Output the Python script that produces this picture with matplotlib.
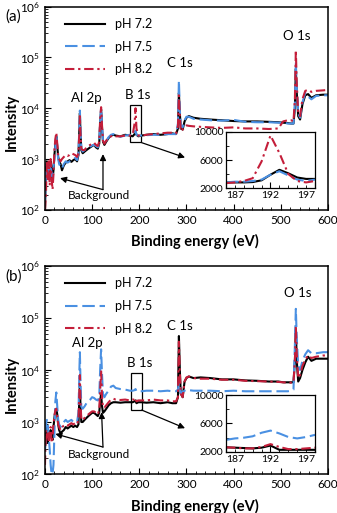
import numpy as np
import matplotlib
matplotlib.use("Agg")
import matplotlib.pyplot as plt
from matplotlib.patches import Rectangle
from matplotlib.ticker import MultipleLocator, LogLocator, NullFormatter, FixedLocator

plt.rcParams['font.family'] = ['Lato', 'DejaVu Sans']

# survey spectra, binding energy grid (eV)
energy = [0, 2, 4, 6, 8, 10, 12, 14, 16, 18, 20, 22, 24, 26, 28, 30, 33, 36, 40, 44,
          48, 52, 56, 60, 64, 68, 71, 73, 74, 75, 77, 80, 84, 88, 92, 96, 100, 104,
          108, 112, 115, 117, 119, 121, 123, 126, 130, 135, 140, 145, 150, 160, 170,
          180, 186, 190, 192, 194, 198, 205, 215, 230, 245, 260, 270, 278, 282, 284,
          286, 288, 292, 296, 300, 305, 315, 330, 350, 375, 400, 425, 450, 475, 495,
          505, 515, 522, 527, 530, 532, 534, 537, 541, 546, 552, 558, 565, 575, 590, 600]

a_ph72 = [100, 700, 900, 700, 800, 500, 900, 700, 400, 600, 1200, 2000, 2800, 1800, 1100, 900, 800, 600, 750, 850,
          900, 950, 880, 950, 1000, 900, 1200, 4000, 8000, 4000, 1500, 1300, 1400, 1500, 1600, 1700, 1800, 1900,
          1700, 1600, 2000, 5000, 9500, 4000, 2200, 1900, 2200, 2600, 2900, 3000, 2900, 2800, 3000,
          2900, 2800, 3100, 3500, 3000, 2800, 2900, 3000, 3100, 3000, 3100, 3200, 3100, 4000, 20000,
          8000, 4000, 3800, 5500, 6500, 7000, 6500, 6200, 6000, 5800, 5600, 5500, 5500, 5400, 5300,
          5200, 5100, 5000, 5000, 10000, 60000, 20000, 7000, 6000, 12000, 18000, 19000, 16000, 18000, 18500, 18500]
a_ph75 = [150, 600, 800, 500, 700, 600, 800, 500, 450, 700, 1000, 1800, 3000, 1500, 1000, 800, 700, 650, 800, 900,
          850, 900, 950, 1000, 1050, 950, 1300, 4500, 9000, 4500, 1600, 1400, 1500, 1600, 1650, 1750, 1850, 1900,
          1800, 1700, 2100, 5500, 10000, 4500, 2300, 2000, 2300, 2700, 3000, 3100, 2900, 2750, 2900,
          3000, 2900, 3200, 3600, 3000, 2900, 2900, 2950, 3000, 3000, 3100, 3100, 3100, 5000, 35000,
          9000, 4500, 4200, 5800, 6800, 6800, 6200, 6000, 5800, 5700, 5900, 5400, 5300, 5300, 5200,
          5200, 5000, 5000, 5000, 12000, 80000, 25000, 8000, 6500, 13000, 20000, 17000, 15000, 17500, 18000, 18000]
a_ph82 = [100, 200, 900, 400, 900, 300, 1000, 400, 250, 500, 1500, 2500, 3300, 2000, 1200, 1000, 900, 1000, 1100, 1200,
          1150, 1200, 1300, 1250, 1200, 1100, 1300, 3500, 7000, 3500, 1600, 1500, 1500, 1700, 1800, 1900, 2000, 2100,
          1900, 1800, 2200, 6000, 10500, 4500, 2300, 2000, 2300, 2600, 2800, 2900, 2800, 2800, 2900,
          2900, 3000, 5000, 10000, 4000, 2900, 2900, 3000, 3100, 3200, 3300, 3300, 3200, 4500, 18000,
          7000, 3500, 3800, 4300, 4600, 4500, 4400, 4300, 4200, 4100, 4200, 4000, 4000, 3900, 4000,
          5500, 5800, 5800, 5500, 15000, 140000, 30000, 8000, 7000, 15000, 22000, 23000, 21000, 22000, 22500, 23000]

b_ph72 = [300, 800, 600, 400, 500, 600, 700, 500, 450, 800, 1200, 1700, 1800, 1400, 900, 700, 600, 650, 700, 800,
          750, 800, 850, 800, 850, 800, 900, 3000, 5000, 2500, 1000, 1000, 1100, 1200, 1300, 1400, 1500, 1500,
          1400, 1300, 1500, 2500, 3500, 2000, 1500, 1600, 1800, 2100, 2300, 2400, 2400, 2350, 2400,
          2400, 2400, 2500, 2600, 2300, 2400, 2400, 2350, 2400, 2300, 2400, 2300, 2300, 3000, 45000,
          10000, 3500, 3000, 6000, 7000, 7500, 7000, 7200, 7000, 6600, 6600, 6300, 6200, 6000, 6000,
          5800, 5800, 5800, 5800, 15000, 60000, 15000, 6000, 7000, 10000, 14000, 18000, 15000, 16500, 16500, 16500]
b_ph75 = [300, 900, 1100, 900, 500, 300, 150, 100, 100, 150, 600, 2500, 3700, 2000, 1100, 900, 800, 900, 1000, 1100,
          1000, 1050, 1100, 1000, 1050, 1000, 1500, 10000, 22000, 8000, 2000, 1800, 2000, 2300, 2500, 2700, 3000, 2900,
          2700, 2600, 3000, 10000, 25000, 8000, 3500, 3000, 3500, 4000, 4800, 5000, 4500, 4300, 4200,
          4000, 4000, 4100, 4300, 3900, 3900, 3900, 4000, 4000, 3900, 4000, 3900, 3900, 4200, 6000,
          5000, 3500, 3800, 4000, 4200, 4100, 4000, 4000, 4000, 3900, 4000, 3900, 3900, 3900, 3900,
          3900, 3900, 4000, 4200, 30000, 150000, 40000, 12000, 10000, 15000, 20000, 24000, 21000, 21000, 22000, 22000]
b_ph82 = [150, 700, 500, 600, 400, 700, 800, 400, 500, 900, 1300, 1700, 1800, 1300, 900, 800, 700, 800, 850, 900,
          850, 900, 950, 900, 950, 900, 1100, 4000, 8000, 3000, 1100, 1100, 1200, 1300, 1400, 1500, 1600, 1600,
          1500, 1400, 1700, 4000, 10000, 3000, 1900, 1900, 2100, 2400, 2700, 2800, 2700, 2650, 2700,
          2600, 2700, 2700, 2900, 2500, 2600, 2600, 2600, 2700, 2600, 2600, 2500, 2500, 3000, 35000,
          9000, 3500, 3000, 6000, 7200, 7500, 7000, 6800, 6800, 6500, 6500, 6200, 6100, 6000, 5900,
          5800, 5700, 5700, 5700, 15000, 70000, 20000, 7000, 8000, 12000, 16000, 19000, 17000, 18000, 19000, 19000]

# B 1s region (insets)
e_b1s = [187, 188, 189, 190, 191, 192, 193, 194, 195, 196, 197]
ia_ph72 = [2800, 2800, 2800, 2850, 3100, 3900, 4600, 4100, 3500, 3300, 3300]
ia_ph75 = [2800, 2900, 2900, 3000, 3200, 3900, 4400, 3800, 3200, 3000, 3200]
ia_ph82 = [2700, 2800, 3000, 3400, 5800, 9500, 7000, 4000, 3000, 2800, 3000]
ib_ph72 = [2650, 2600, 2550, 2500, 2600, 2900, 2300, 2300, 2300, 2300, 2300]
ib_ph75 = [3700, 3900, 4000, 4200, 4700, 5000, 4600, 4100, 3900, 4100, 4400]
ib_ph82 = [2650, 2600, 2500, 2500, 2700, 3100, 2700, 2400, 2400, 2500, 2600]

labels = ['pH 7.2', 'pH 7.5', 'pH 8.2']
colors = ['#000000', '#4a90e2', '#c41e3a']
styles = [dict(), dict(dashes=(6, 2.3)), dict(dashes=(4.5, 1.8, 1.1, 1.8))]

fig = plt.figure(figsize=(3.37, 5.13), dpi=100)


def style_axes(ax, size):
    ax.tick_params(which='both', direction='in', labelsize=size, top=False, right=False)
    ax.tick_params(which='major', length=4, width=0.8)
    ax.tick_params(which='minor', length=2.5, width=0.6)
    for s in ax.spines.values():
        s.set_linewidth(1.1)


def panel(rect, tag, series, inset_rect, inset_series, peaks, box, box_arrow, bg_text, bg_heads, bg_tail):
    ax = fig.add_axes(rect)
    for y, lab, c, st in zip(series, labels, colors, styles):
        ax.plot(energy, y, color=c, lw=1.5, label=lab, **st)
    ax.set_yscale('log')
    ax.set_xlim(0, 600)
    ax.set_ylim(1e2, 1e6)
    ax.xaxis.set_major_locator(MultipleLocator(100))
    ax.xaxis.set_minor_locator(MultipleLocator(20))
    ax.yaxis.set_major_locator(LogLocator(base=10, numticks=10))
    ax.yaxis.set_minor_locator(LogLocator(base=10, subs=np.arange(2, 10), numticks=10))
    ax.yaxis.set_minor_formatter(NullFormatter())
    style_axes(ax, 8.5)
    ax.set_xlabel('Binding energy (eV)', fontsize=10.5, fontweight='bold')
    ax.set_ylabel('Intensity', fontsize=10.5, fontweight='bold')
    ax.xaxis.set_label_coords(0.53, -0.118)
    ax.yaxis.set_label_coords(-0.093, 0.43)
    ax.legend(loc='upper left', bbox_to_anchor=(0.05, 0.975), frameon=False, fontsize=9,
              handlelength=3.2, handletextpad=0.8, labelspacing=0.85, borderpad=0)
    ax.text(-0.14, 0.95, tag, transform=ax.transAxes, fontsize=11, ha='left', va='center')

    for name, (x, y) in peaks.items():
        ax.text(x, y, name, fontsize=9.5, ha='center', va='center')

    x0, x1, y0, y1 = box
    ax.add_patch(Rectangle((x0, y0), x1 - x0, y1 - y0, fill=False, ec='k', lw=0.9))
    arrow = dict(arrowstyle='-|>', color='k', lw=0.9, mutation_scale=9, shrinkA=0, shrinkB=0)
    ax.annotate('', xy=box_arrow[1], xytext=box_arrow[0], arrowprops=arrow)

    ax.text(bg_text[0], bg_text[1], 'Background', fontsize=8.5, ha='center', va='center')
    for head in bg_heads:
        ax.annotate('', xy=head, xytext=bg_tail, arrowprops=arrow)

    ins = fig.add_axes(inset_rect)
    for y, c, st in zip(inset_series, colors, styles):
        ins.plot(e_b1s, y, color=c, lw=1.5, **st)
    ins.set_xlim(187, 197)
    ins.set_ylim(2000, 10000)
    ins.xaxis.set_major_locator(FixedLocator([187, 192, 197]))
    ins.xaxis.set_minor_locator(MultipleLocator(1))
    ins.yaxis.set_major_locator(FixedLocator([2000, 6000, 10000]))
    ins.yaxis.set_minor_locator(MultipleLocator(2000))
    style_axes(ins, 7.5)
    ins.tick_params(pad=2)
    xl = ins.get_xticklabels()
    xl[0].set_horizontalalignment('left')
    xl[-1].set_horizontalalignment('right')
    for s in ins.spines.values():
        s.set_linewidth(0.9)
    return ax


panel([0.1335, 0.591, 0.8395, 0.396], '(a)', [a_ph72, a_ph75, a_ph82],
      [0.6706, 0.6335, 0.2641, 0.1092], [ia_ph72, ia_ph75, ia_ph82],
      {'Al 2p': (87, 16000), 'B 1s': (197, 18000), 'C 1s': (287, 77000), 'O 1s': (534, 260000)},
      (180, 203, 2130, 11700), ((205, 2100), (297, 1070)),
      (115, 190), [(123, 1250), (32, 420)], (123, 250))

panel([0.1335, 0.076, 0.8395, 0.4055], '(b)', [b_ph72, b_ph75, b_ph82],
      [0.6706, 0.119, 0.2641, 0.111], [ib_ph72, ib_ph75, ib_ph82],
      {'Al 2p': (89, 33000), 'B 1s': (200, 13500), 'C 1s': (287, 70000), 'O 1s': (535, 300000)},
      (182, 205, 1700, 8700), ((205, 1700), (297, 760)),
      (115, 234), [(120, 1550), (22, 590)], (123, 330))

fig.savefig('out.png', dpi=100)
